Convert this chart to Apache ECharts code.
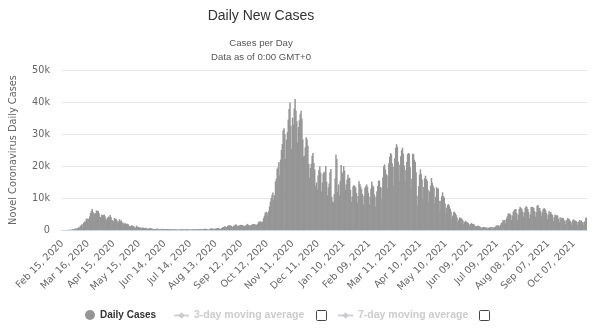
<!DOCTYPE html>
<html>
<head>
<meta charset="utf-8">
<script src="https://cdn.jsdelivr.net/npm/echarts@6/dist/echarts.min.js"></script>
<style>html,body{margin:0;padding:0;background:#fff}#c{width:600px;height:334px}</style>
</head>
<body>
<div id="c"></div>
<script>
// Daily new cases, one value per day starting Feb 15, 2020
const startDate = "2020-02-15";
const feb2020 = [0,0,0,0,0,0,17,62,53,97,93,78,250,238,240];
const mar2020 = [573,335,466,587,769,778,1247,1492,1797,977,2313,2651,2547,3497,3590,3233,3526,4207,5322,5986,6557,5560,4789,5249,5210,6153,5959,5974,5217,4050,4053];
const apr2020 = [4782,4668,4585,4805,4316,3599,3039,3836,4204,3951,4694,4092,3153,2972,2667,3786,3493,3491,3047,2256,2729,3370,2646,3021,2357,2324,1739,2091,2086,1872];
const may2020 = [1965,1900,1389,1221,1075,1444,1401,1327,1083,802,744,1402,888,992,789,875,675,451,813,665,642,652,669,531,300,397,584,593,516,416,355];
const jun2020 = [178,318,321,177,518,270,197,280,283,202,379,163,346,338,301,210,328,333,251,262,224,218,122,190,296,259,175,174,126,142];
const jul2020 = [182,201,223,235,192,208,138,193,229,276,188,234,169,114,162,230,233,249,219,218,190,129,282,306,252,275,255,170,212,289,386];
const aug2020 = [379,295,239,159,190,384,402,552,347,463,259,412,481,523,574,629,479,320,403,642,845,947,1071,1210,953,878,1367,1411,1462,1444,1365];
const sep2020 = [996,978,1326,1397,1733,1695,1297,1108,1370,1434,1597,1616,1501,1458,1008,1229,1452,1585,1907,1638,1587,1350,1392,1640,1786,1912,1869,1766,1494,1648];
const oct2020 = [1851,2548,2499,2844,2578,2257,2677,3678,4458,5372,5724,5456,4619,5901,7332,8804,10010,10925,11705,9338,10874,15199,16079,19143,19644,21273,17012,21994,24991,26831,31084];
const nov2020 = [31758,29907,22253,28244,30550,34505,37809,39811,32616,25271,35098,32961,37978,40902,37255,33979,27354,32191,34283,36176,37242,34767,28337,22930,23232,25853,29003,28352,26323,20648];
const dec2020 = [16377,19350,20709,23225,24099,21052,18887,13720,14842,12756,16999,18727,19903,17938,12030,14844,17572,18236,17992,19974,15104,10872,13318,14522,18040,19037,10407,8913,8585,11212,16202];
const jan2021 = [23477,22211,11831,14245,10800,15378,20331,18020,17533,19978,18627,12545,14242,15774,17246,16146,16310,12545,8824,10497,13571,14078,13633,13331,11629,8561,10593,15204,14372,13574,12715];
const feb2021 = [11252,7925,10630,13189,13659,14218,13442,11641,7970,10404,12956,15146,13908,13532,11068,7351,10386,12074,13762,15479,15370,13452,9630,13314,16424,19886,20499,18916];
const mar2021 = [17455,13114,17083,20884,22865,24036,23641,20765,13902,19749,22409,25673,26824,26062,21315,15267,20396,23059,24935,25735,23832,20159,15267,18765,21267,23696,24076,23839,19611,12916,16017];
const apr2021 = [23904,23649,21932,21261,18025,10680,7767,13708,17221,18938,17567,15746,9789,13447,16168,16974,15943,15370,12694,8864,12074,13844,16232,14761,13817,13158,8444,10404,13385,12965];
const may2021 = [12965,9148,5948,9116,10585,11807,10554,10176,8292,5080,6946,7852,8085,7567,6659,5753,3455,4452,5506,5741,5218,4717,3995,2490,3224,3937,3738,3695,3351,2949,1820];
const jun2021 = [2483,2897,2557,2436,2275,1821,1273,1896,2199,1901,1904,1723,1390,907,1255,1199,1400,1197,1040,881,495,835,951,927,753,794,778,389,679,776];
const jul2021 = [882,794,932,808,480,907,1010,1394,1390,1400,1391,888,1553,2153,2455,3127,2898,3121,2072,3558,4259,5057,5143,5140,4743,3117,4522,5696,6171,6513,6599];
const aug2021 = [5321,3190,4845,6596,7230,6838,6619,5735,4200,5512,6968,7409,7162,6529,5664,3662,4839,7260,7162,7224,6860,5922,4168,5559,7548,7826,6933,6860,5959,4257,5498];
const sep2021 = [6503,6761,6735,6157,5315,3361,4720,5923,5193,5621,5002,4664,2800,4021,4830,4600,4552,4578,3525,2475,3970,3377,3797,3797,3578,2938,1772,2985,3212,3804];
const oct2021 = [3405,3312,2766,1612,2466,3235,3254,2960,2938,2748,1597,2494,2772,3128,2668,2983,2437,1597,2535,2697,3702,3882];

const dailyCases = [].concat(feb2020,mar2020,apr2020,may2020,jun2020,jul2020,aug2020,sep2020,oct2020,nov2020,dec2020,
  jan2021,feb2021,mar2021,apr2021,may2021,jun2021,jul2021,aug2021,sep2021,oct2021);

const yTicks = [0,10000,20000,30000,40000,50000];
const legendNames = ["Daily Cases","3-day moving average","7-day moving average"];

const months = ["Jan","Feb","Mar","Apr","May","Jun","Jul","Aug","Sep","Oct","Nov","Dec"];
const categories = [];
{
  const d0 = new Date(startDate + "T00:00:00Z");
  for (let i = 0; i < dailyCases.length; i++) {
    const d = new Date(d0.getTime() + i * 86400000);
    const dd = String(d.getUTCDate()).padStart(2, "0");
    categories.push(months[d.getUTCMonth()] + " " + dd + ", " + d.getUTCFullYear());
  }
}

const chart = echarts.init(document.getElementById("c"), null, {renderer: "canvas"});
const FONT = "Liberation Sans";
const AXF = "DejaVu Sans";
chart.setOption({
  animation: false,
  backgroundColor: "#fff",
  title: [
    {text: "Daily New Cases", left: 256, top: 4, textAlign: "center",
     textStyle: {fontFamily: FONT, fontSize: 14, fontWeight: "normal", color: "#333"}},
    {text: "Cases per Day\nData as of 0:00 GMT+0", left: 256, top: 31, textAlign: "center",
     textStyle: {fontFamily: FONT, fontSize: 9.6, fontWeight: "normal", color: "#555", lineHeight: 14}}
  ],
  grid: {left: 57, right: 13, top: 70, bottom: 104, containLabel: false},
  xAxis: {
    type: "category",
    data: categories,
    boundaryGap: true,
    axisLine: {lineStyle: {color: "#ccd6eb"}},
    axisTick: {show: false},
    axisLabel: {interval: 29, rotate: 45, fontFamily: AXF, fontSize: 9.7, color: "#666", margin: 12},
    splitLine: {show: false}
  },
  yAxis: {
    type: "value",
    min: yTicks[0], max: yTicks[yTicks.length - 1], interval: 10000,
    name: "Novel Coronavirus Daily Cases",
    nameLocation: "middle", nameRotate: 90, nameGap: 44,
    nameTextStyle: {fontFamily: AXF, fontSize: 9.8, color: "#666"},
    axisLine: {show: false}, axisTick: {show: false},
    axisLabel: {fontFamily: AXF, fontSize: 9.7, color: "#666", margin: 12,
      formatter: v => v === 0 ? "0" : (v / 1000) + "k"},
    splitLine: {lineStyle: {color: "#e6e6e6"}}
  },
  legend: [
    {data: [{name: legendNames[0], icon: "circle"}], left: 80, top: 305, itemWidth: 10, itemHeight: 10,
     textStyle: {fontFamily: FONT, fontSize: 10, fontWeight: "bold", color: "#333"}},
    {data: [legendNames[1]], left: 168, top: 305, itemWidth: 15, itemHeight: 8, inactiveColor: "#ccc",
     selected: {[legendNames[1]]: false},
     textStyle: {fontFamily: FONT, fontSize: 10.5, fontWeight: "bold", color: "#333"}},
    {data: [legendNames[2]], left: 332, top: 305, itemWidth: 15, itemHeight: 8, inactiveColor: "#ccc",
     selected: {[legendNames[2]]: false},
     textStyle: {fontFamily: FONT, fontSize: 10.5, fontWeight: "bold", color: "#333"}}
  ],
  graphic: [
    {type: "rect", left: 316, top: 310, shape: {width: 10, height: 10, r: 1}, style: {fill: "#fff", stroke: "#444", lineWidth: 1}},
    {type: "rect", left: 479, top: 310, shape: {width: 10, height: 10, r: 1}, style: {fill: "#fff", stroke: "#444", lineWidth: 1}}
  ],
  series: [
    {name: legendNames[0], type: "bar", data: dailyCases, barWidth: 1.5,
     itemStyle: {color: "#969696"}},
    {name: legendNames[1], type: "line", data: [], symbol: "diamond", itemStyle: {color: "#999"}},
    {name: legendNames[2], type: "line", data: [], symbol: "diamond", itemStyle: {color: "#999"}}
  ]
});
</script>
</body>
</html>
